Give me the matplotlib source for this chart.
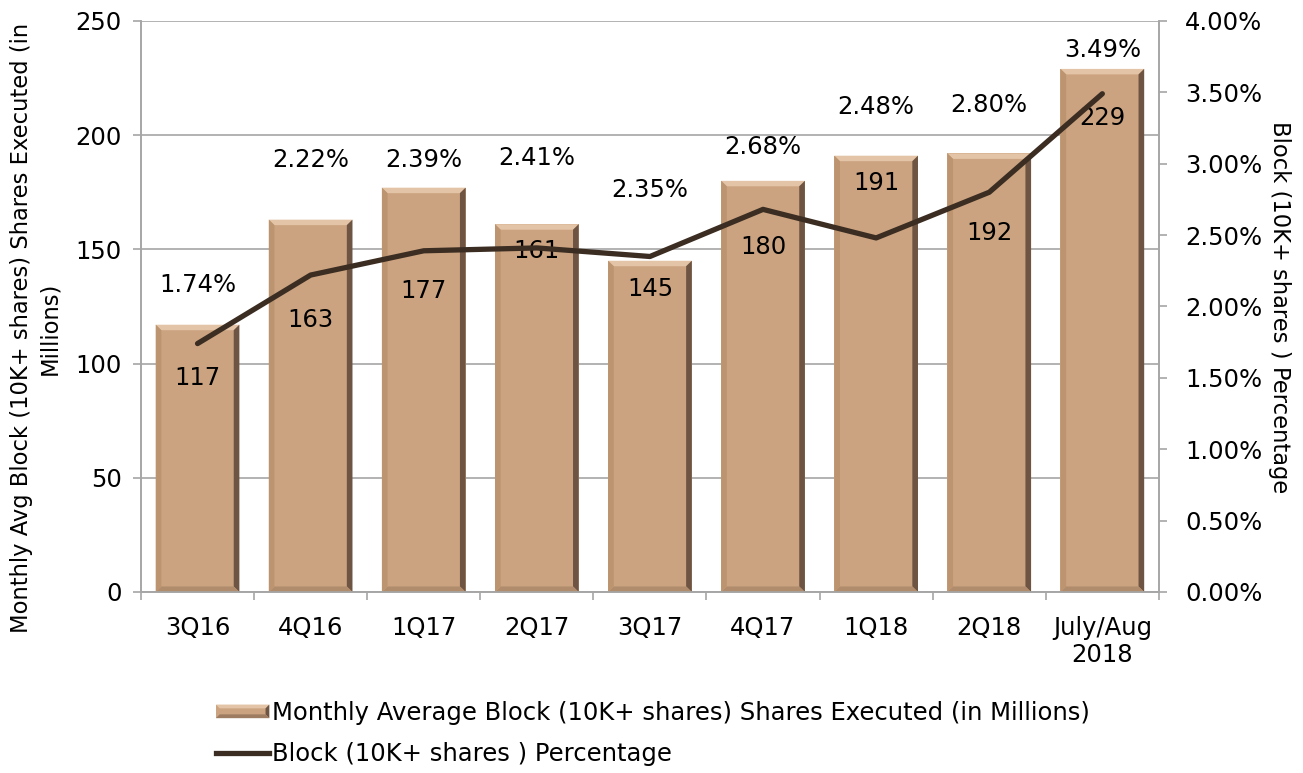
import numpy as np
import matplotlib
matplotlib.use('Agg')
import matplotlib.pyplot as plt
from matplotlib.patches import Polygon, Rectangle
from matplotlib.lines import Line2D
from matplotlib.legend_handler import HandlerBase

plt.rcParams['font.family'] = ['DejaVu Sans']

# data
categories = ['3Q16', '4Q16', '1Q17', '2Q17', '3Q17', '4Q17', '1Q18', '2Q18', 'July/Aug\n2018']
shares = [117, 163, 177, 161, 145, 180, 191, 192, 229]
block_pct = [1.74, 2.22, 2.39, 2.41, 2.35, 2.68, 2.48, 2.80, 3.49]

# label placement (left-axis units)
share_label_y = [93.7, 119.1, 131.8, 149.3, 132.7, 151.1, 179.1, 157.2, 207.5]
pct_label_y = [134.4, 189.1, 189.1, 190.0, 176.0, 194.8, 212.3, 213.2, 237.3]

bar_color = '#CBA380'
line_color = '#3B2D22'
grid_color = '#A6A6A6'
fs = 17.5
title_fs = 16.3

fig = plt.figure(figsize=(13.03, 7.73), dpi=100)
ax = fig.add_axes([0.1082, 0.2342, 0.7812, 0.7387])
ax2 = ax.twinx()

x = np.arange(len(categories))
width = 0.74

bars = ax.bar(x, shares, width, color=bar_color, edgecolor='none', zorder=2)

# bevel effect on each bar
def bevel(axis, x0, y0, w, h, dx, dy):
    x1, y1 = x0 + w, y0 + h
    parts = [
        ([(x0, y1), (x1, y1), (x1 - dx, y1 - dy), (x0 + dx, y1 - dy)], '#E3C4A6'),
        ([(x1, y1), (x1, y0), (x1 - dx, y0 + dy), (x1 - dx, y1 - dy)], '#6E5442'),
        ([(x0, y0), (x1, y0), (x1 - dx, y0 + dy), (x0 + dx, y0 + dy)], '#B08C6C'),
        ([(x0, y0), (x0, y1), (x0 + dx, y1 - dy), (x0 + dx, y0 + dy)], '#BC946F'),
    ]
    for pts, c in parts:
        axis.add_patch(Polygon(pts, closed=True, facecolor=c, edgecolor='none', zorder=3))

for b in bars:
    bevel(ax, b.get_x(), b.get_y(), b.get_width(), b.get_height(), 0.05, 2.4)

ax.set_xlim(-0.5, len(categories) - 0.5)
ax.set_ylim(0, 250)
ax.set_yticks(np.arange(0, 251, 50))
ax.yaxis.grid(True, color=grid_color, linewidth=1.2, zorder=0)
ax.set_axisbelow(True)

ax2.plot(x, block_pct, color=line_color, linewidth=3.8, zorder=5, solid_capstyle='round')
ax2.set_ylim(0, 4.0)
ax2.set_yticks(np.arange(0, 4.01, 0.5))
ax2.set_yticklabels(['%.2f%%' % v for v in np.arange(0, 4.01, 0.5)])
ax.set_zorder(1)
ax2.set_zorder(2)
ax2.patch.set_visible(False)

for i in range(len(categories)):
    ax.text(x[i], share_label_y[i], str(shares[i]), ha='center', va='center', fontsize=fs, zorder=10)
    ax.text(x[i], pct_label_y[i], '%.2f%%' % block_pct[i], ha='center', va='center', fontsize=fs, zorder=10)

ax.set_xticks(x)
ax.set_xticklabels(categories, fontsize=fs, linespacing=1.2)
ax.set_xticks(np.arange(-0.5, len(categories), 1), minor=True)
ax.tick_params(axis='x', which='major', length=0, pad=17)
ax.tick_params(axis='x', which='minor', length=6, color=grid_color, width=1.2)
ax.tick_params(axis='y', labelsize=fs, length=6, color=grid_color, width=1.2, pad=8)
ax2.tick_params(axis='y', labelsize=fs, length=6, color=grid_color, width=1.2, pad=13)

for a in (ax, ax2):
    a.spines['top'].set_visible(False)
    for s in ('left', 'right', 'bottom'):
        a.spines[s].set_color(grid_color)
        a.spines[s].set_linewidth(1.2)

fig.text(36 / 1303, 1 - 328 / 773,
         'Monthly Avg Block (10K+ shares) Shares Executed (in\nMillions)',
         rotation=90, ha='center', va='center', multialignment='center',
         fontsize=title_fs, linespacing=1.3)
fig.text(1280 / 1303, 1 - 307 / 773, 'Block (10K+ shares ) Percentage',
         rotation=270, ha='center', va='center', fontsize=title_fs)


class BevelHandler(HandlerBase):
    def create_artists(self, legend, orig_handle, xdescent, ydescent, width, height, fontsize, trans):
        h = height * 0.8
        y0 = -ydescent + (height - h) / 2
        out = [Rectangle((-xdescent, y0), width, h, facecolor=bar_color, edgecolor='none', transform=trans)]
        d = h * 0.28
        x0, x1, y1 = -xdescent, -xdescent + width, y0 + h
        for pts, c in [
            ([(x0, y1), (x1, y1), (x1 - d, y1 - d), (x0 + d, y1 - d)], '#E3C4A6'),
            ([(x1, y1), (x1, y0), (x1 - d, y0 + d), (x1 - d, y1 - d)], '#6E5442'),
            ([(x0, y0), (x1, y0), (x1 - d, y0 + d), (x0 + d, y0 + d)], '#9E7C61'),
        ]:
            out.append(Polygon(pts, closed=True, facecolor=c, edgecolor='none', transform=trans))
        return out


bar_handle = Rectangle((0, 0), 1, 1)
line_handle = Line2D([], [], color=line_color, linewidth=3.8)
fig.legend([bar_handle, line_handle],
           ['Monthly Average Block (10K+ shares) Shares Executed (in Millions)',
            'Block (10K+ shares ) Percentage'],
           handler_map={Rectangle: BevelHandler()},
           loc='upper left', bbox_to_anchor=(194 / 1303, 1 - 679 / 773),
           frameon=False, fontsize=fs, handlelength=2.2, handletextpad=0.12,
           labelspacing=0.72)

fig.savefig('out.png', dpi=100)
